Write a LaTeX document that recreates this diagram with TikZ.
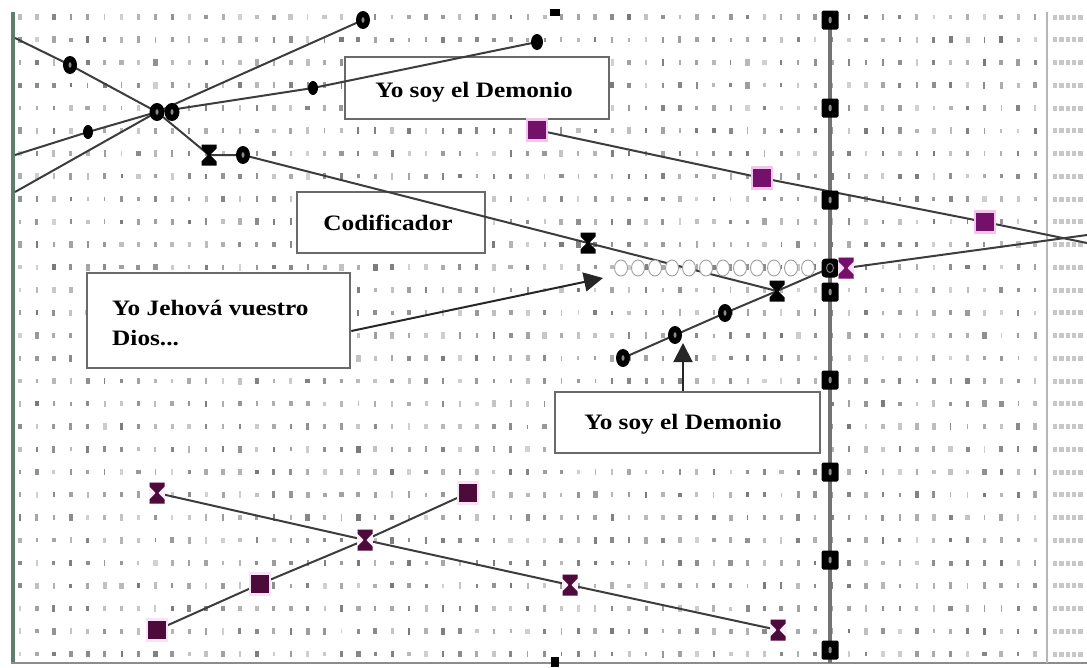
\documentclass[tikz,border=0pt]{standalone}
\usepackage{fontspec}
\setmainfont{Liberation Serif}
\usepackage{graphicx}
\usetikzlibrary{shapes.geometric,arrows.meta}
\pgfdeclarelayer{gridlayer}
\pgfdeclarelayer{boxlayer}
\pgfdeclarelayer{marklayer}
\pgfsetlayers{gridlayer,boxlayer,main,marklayer}
\definecolor{purp}{HTML}{74106A}
\definecolor{dpurp}{HTML}{4C0B3A}
\definecolor{glow}{HTML}{F2C6EC}
\definecolor{lnc}{HTML}{3C3C3C}
\definecolor{boxc}{HTML}{6A6A6A}
\definecolor{leftc}{HTML}{5E7E6E}
\tikzset{
 lbl/.style={font=\bfseries\fontsize{22pt}{30pt}\selectfont, inner sep=0pt},
 txtbox/.style={draw=boxc, line width=2.6pt, fill=white, inner sep=0pt},
 conn/.style={draw=lnc, line width=2pt},
 arr/.style={draw=black!85, line width=2pt, -{Triangle[length=19pt,width=19pt]}},
 bdot/.style={ellipse, fill=black, minimum width=14pt, minimum height=18pt, inner sep=0pt,
   path picture={\fill[black!45] (path picture bounding box.center) ellipse (1.5pt and 2.8pt);}},
 sdot/.style={ellipse, fill=black, minimum width=10pt, minimum height=14pt, inner sep=0pt},
 bsq/.style={rectangle, rounded corners=1.5pt, fill=black, minimum width=17pt, minimum height=19pt, inner sep=0pt,
   path picture={\fill[black!45] ([xshift=-1.5pt,yshift=-3.5pt]path picture bounding box.center) rectangle ++(3pt,7pt);}},
 bcirc/.style={rectangle, rounded corners=4pt, fill=black, minimum width=17pt, minimum height=19pt, inner sep=0pt,
   path picture={\draw[black!50, line width=1pt] (path picture bounding box.center) ellipse (3.5pt and 4.5pt);}},
 ocirc/.style={ellipse, draw=gray!75, line width=0.9pt, fill=white, minimum width=13pt, minimum height=16pt, inner sep=0pt},
 psq/.style={rectangle, fill=#1, draw=glow, line width=2.2pt, minimum width=20pt, minimum height=21pt, inner sep=0pt},
 hglass/.style={rectangle, minimum width=16pt, minimum height=22pt, inner sep=0pt,
   path picture={\begin{scope}[shift={(path picture bounding box.center)}, x=1pt, y=1pt]
     \fill[#1] (-7.5,10.5) -- (7.5,10.5) -- (7.5,6.5) -- (1.3,0) -- (7.5,-6.5) -- (7.5,-10.5)
       -- (-7.5,-10.5) -- (-7.5,-6.5) -- (-1.3,0) -- (-7.5,6.5) -- cycle;
     \end{scope}}},
}
\begin{document}
\begin{tikzpicture}[x=1pt,y=-1pt]
\useasboundingbox (0,0) rectangle (1087,667);

% ---------- grid of characters ----------
\begin{pgfonlayer}{gridlayer}
\fill[white] (0,0) rectangle (1087,667);
\pgfmathsetseed{11}
\foreach \i in {0,...,60}{
  \foreach \j in {0,...,28}{
    \pgfmathsetmacro{\w}{1.5+3*rnd}
    \pgfmathtruncatemacro{\g}{18+random(0,34)}
    \pgfmathsetmacro{\h}{4+3*rnd}
    \fill[black!\g] ({20+16.92*\i-\w/2},{17+22.75*\j-\h/2}) rectangle ++(\w,\h);
  }
}
\foreach \j in {0,...,28}{
  \foreach \k in {0,...,4}{
    \fill[black!22] ({1053+6.3*\k},{17+22.75*\j-2.5}) rectangle ++(4.3,5);
  }
}
% borders
\coordinate (lt) at (13,12); \coordinate (lb) at (13,663);
\coordinate (bl) at (11,663); \coordinate (br) at (1087,663);
\coordinate (rt) at (1047,12); \coordinate (rb) at (1047,663);
\coordinate (vtop) at (830,12); \coordinate (vbot) at (830,663);
\draw[leftc, line width=4pt] (lt) -- (lb);
\draw[black!45, line width=2.5pt] (bl) -- (br);
\draw[black!28, line width=2pt] (rt) -- (rb);
\draw[black!55, line width=3.5pt] (vtop) -- (vbot);
\fill[black] (550,9) rectangle (560,16);
\fill[black] (551,657) rectangle (559,667);
\end{pgfonlayer}

% ---------- text boxes ----------
\begin{pgfonlayer}{boxlayer}
\node[txtbox, minimum width=264pt, minimum height=62pt] (b1) at (477,88) {};
\node[lbl, anchor=base] (t1) at (474,97) {\scalebox{1.15}[1]{Yo soy el Demonio}};
\node[txtbox, minimum width=188pt, minimum height=61pt] (b2) at (391,222.5) {};
\node[lbl, anchor=base] (t2) at (388,230) {\scalebox{1.15}[1]{Codificador}};
\node[txtbox, minimum width=263pt, minimum height=95pt] (b3) at (218.5,320.5) {};
\node[lbl, anchor=base west] (t3a) at (112,315) {\scalebox{1.15}[1]{Yo Jehová vuestro}};
\node[lbl, anchor=base west] (t3b) at (112,345) {\scalebox{1.15}[1]{Dios...}};
\node[txtbox, minimum width=265pt, minimum height=61pt] (b4) at (687.5,422.5) {};
\node[lbl, anchor=base] (t4) at (683,429) {\scalebox{1.15}[1]{Yo soy el Demonio}};
\end{pgfonlayer}

% ---------- markers ----------
\begin{pgfonlayer}{marklayer}
\node[bdot] (d1) at (70,65) {};
\node[bdot] (d2) at (363,20) {};
\node[sdot, minimum width=12pt, minimum height=16pt] (d3) at (537,42) {};
\node[sdot] (d4) at (88,132) {};
\node[sdot] (d5) at (313,88) {};
\node[bdot, minimum width=15pt] (dd1) at (157,112) {};
\node[bdot, minimum width=15pt] (dd2) at (172,112) {};
\node[hglass=black] (h1) at (209,155) {};
\node[bdot] (d6) at (243,155) {};
\node[hglass=black] (h2) at (588,243) {};
\node[hglass=black] (h3) at (777,291) {};
\node[bdot] (d7) at (623,358) {};
\node[bdot] (d8) at (675,335) {};
\node[bdot] (d9) at (725,313) {};
\foreach \y [count=\n] in {20,108,200,292,380,472,560,650}{
  \node[bsq] (sq\n) at (830,\y) {};
}
\foreach \k in {0,...,11}{
  \node[ocirc] (oc\k) at ({621+17*\k},268) {};
}
\node[bcirc] (vc) at (830,268) {};
\node[hglass=purp, fill=glow!60] (ph) at (846,268) {};
\node[psq=purp] (p1) at (537,130) {};
\node[psq=purp] (p2) at (762,178) {};
\node[psq=purp] (p3) at (985,222) {};
\node[hglass=dpurp, fill=glow!30] (lh1) at (157,493) {};
\node[hglass=dpurp, fill=glow!30] (lh2) at (365,540) {};
\node[hglass=dpurp, fill=glow!30] (lh3) at (570,585) {};
\node[hglass=dpurp, fill=glow!30] (lh4) at (778,630) {};
\node[psq=dpurp, draw=glow!50] (ls1) at (157,630) {};
\node[psq=dpurp, draw=glow!50] (ls2) at (260,584) {};
\node[psq=dpurp, draw=glow!50] (ls3) at (468,493) {};
\end{pgfonlayer}

% ---------- connectors ----------
\coordinate (eA) at (15,38);
\coordinate (eB) at (15,192);
\coordinate (eC) at (15,155);
\coordinate (eE) at (1087,243);
\coordinate (eD) at (1087,235);
\coordinate (tip1) at (603,278);
\coordinate (tip2) at (683,343);

\draw[conn] (eA) -- (d1.center) -- (dd1.center) -- (h1.center) -- (d6.center) -- (h2.center) -- (h3.center);
\draw[conn] (eB) -- (dd1.center) -- (d2.center);
\draw[conn] (eC) -- (d4.center) -- (dd1.center) -- (d5.center) -- (d3.center);
\draw[conn] (d7.center) -- (d8.center) -- (d9.center) -- (h3.center) -- (vc.center);
\draw[conn] (p1.center) -- (p2.center) -- (p3.center) -- (eE);
\draw[conn] (ph.center) -- (eD);
\draw[conn] (lh1.center) -- (lh2.center) -- (lh3.center) -- (lh4.center);
\draw[conn] (ls1.center) -- (ls2.center) -- (lh2.center) -- (ls3.center);

\draw[arr] ([yshift=-10.5pt]b3.east) -- (tip1);
\draw[arr] ([xshift=-4.5pt]b4.north) -- (tip2);
\end{tikzpicture}
\end{document}
